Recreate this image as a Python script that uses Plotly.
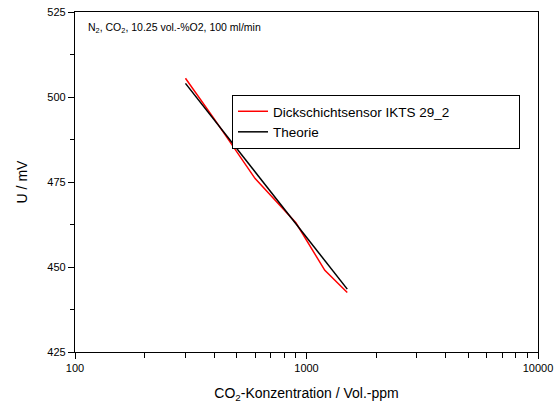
import numpy as np
import plotly.graph_objects as go

# Measured sensor response (CO2 in vol.-ppm, voltage in mV)
sensor_co2 = [300, 400, 600, 900, 1200, 1500]
sensor_mv = [505.5, 493.5, 476.0, 463.0, 449.0, 442.5]

# Theoretical (Nernst) line
theory_co2 = [300, 1500]
theory_mv = [504.0, 443.5]

series_names = ["Dickschichtsensor IKTS 29_2", "Theorie"]
series_colors = ["#ff0000", "#000000"]

# Concentration axis is logarithmic: positions are log10(ppm)
x_ticks = [100, 1000, 10000]
x_ticklabels = ["100", "1000", "10000"]
x_minor = [m * d for d in (100, 1000) for m in range(2, 10)]
y_ticks = [425, 450, 475, 500, 525]
y_minor = [437.5, 462.5, 487.5, 512.5]

FONT = "Liberation Sans, Arial, sans-serif"
W, H = 557, 412
L, R, T, B = 75, 19, 12, 60
PW, PH = W - L - R, H - T - B


def px(x):
    return (x - L) / PW


def py(y):
    return 1 - (y - T) / PH


fig = go.Figure()
fig.add_trace(go.Scatter(
    x=np.log10(sensor_co2), y=sensor_mv, mode="lines",
    customdata=sensor_co2,
    hovertemplate="%{customdata} ppm<br>%{y} mV<extra></extra>",
    line=dict(color=series_colors[0], width=1.5),
    name=series_names[0] + "\u00a0" * 17,
))
fig.add_trace(go.Scatter(
    x=np.log10(theory_co2), y=theory_mv, mode="lines",
    customdata=theory_co2,
    hovertemplate="%{customdata} ppm<br>%{y} mV<extra></extra>",
    line=dict(color=series_colors[1], width=1.5),
    name=series_names[1],
))

fig.update_layout(
    width=W, height=H,
    margin=dict(l=L, r=R, t=T, b=B, autoexpand=False),
    paper_bgcolor="white", plot_bgcolor="white",
    font=dict(family=FONT, color="black"),
    showlegend=True,
    legend=dict(
        x=px(232), y=py(95), xanchor="left", yanchor="top",
        bordercolor="black", borderwidth=1, bgcolor="white",
        font=dict(size=13.5, family=FONT, color="black"),
        tracegroupgap=0, itemwidth=30,
    ),
    annotations=[dict(
        xref="paper", yref="paper",
        x=px(86), y=py(28), xanchor="left", yanchor="middle",
        text="N<sub>2</sub>, CO<sub>2</sub>, 10.25 vol.-%O2, 100 ml/min",
        showarrow=False, font=dict(size=10.5, family=FONT, color="black"),
    )],
    xaxis=dict(
        range=[np.log10(x_ticks[0]), np.log10(x_ticks[-1])],
        showline=True, linecolor="black", linewidth=1.3, mirror=True,
        ticks="outside", ticklen=6, tickwidth=1, tickcolor="black",
        tickmode="array", tickvals=list(np.log10(x_ticks)),
        ticktext=x_ticklabels, tickangle=0,
        tickfont=dict(size=11, color="black"),
        minor=dict(ticks="outside", ticklen=5, tickwidth=1,
                   tickcolor="black", tickmode="array",
                   tickvals=list(np.log10(x_minor))),
        showgrid=False, zeroline=False,
        title=dict(text="CO<sub>2</sub>-Konzentration / Vol.-ppm",
                   font=dict(size=14), standoff=14),
    ),
    yaxis=dict(
        range=[425, 525],
        showline=True, linecolor="black", linewidth=1.3, mirror=True,
        ticks="outside", ticklen=6, tickwidth=1, tickcolor="black",
        tickmode="array", tickvals=y_ticks,
        tickfont=dict(size=11),
        minor=dict(ticks="outside", ticklen=4, tickwidth=1,
                   tickcolor="black", tickmode="array", tickvals=y_minor),
        showgrid=False, zeroline=False,
        title=dict(text="U / mV", font=dict(size=14), standoff=16),
    ),
)

fig.write_html("out.html")
